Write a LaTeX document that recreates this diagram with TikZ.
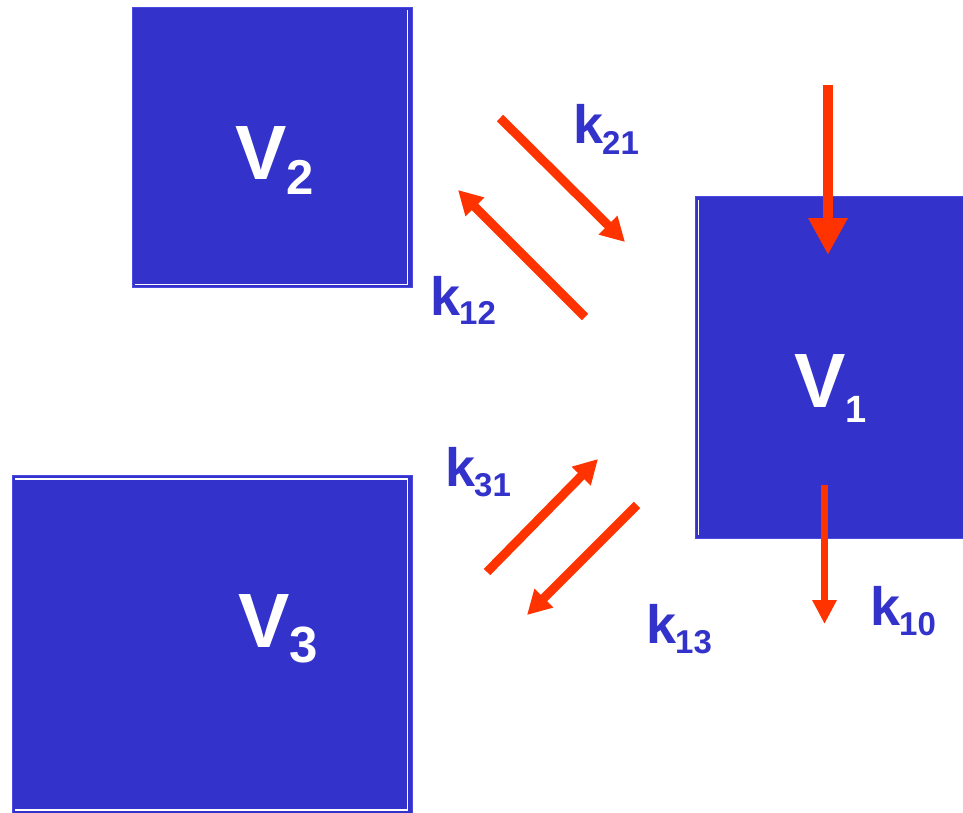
\documentclass[tikz,border=0pt]{standalone}
\usepackage{fontspec}
\setmainfont{Liberation Sans}
\usetikzlibrary{arrows.meta}
\definecolor{boxblue}{HTML}{3333CC}
\definecolor{edgeblue}{HTML}{4A4AE0}
\definecolor{arrred}{HTML}{FF3300}
\tikzset{
  compbox/.style={fill=boxblue, draw=edgeblue, line width=1pt},
  inner/.style={draw=white, line width=1.6pt},
  vlabel/.style={text=white, font=\bfseries, inner sep=0pt, anchor=base west},
  klabel/.style={text=boxblue, font=\bfseries, inner sep=0pt, anchor=base west},
  flow/.style={draw=arrred, line width=9pt, -{Triangle[length=24pt, width=25pt]}},
}
\newcommand{\Vlab}[3]{{\fontsize{77}{77}\selectfont V\kern#3pt\raisebox{-15pt}{\fontsize{#2}{#2}\selectfont #1}}}
\newcommand{\Klab}[2]{{\fontsize{54}{54}\selectfont k\kern-1pt\raisebox{-#2pt}{\fontsize{33}{33}\selectfont #1}}}
\begin{document}
\begin{tikzpicture}[x=1pt, y=-1pt]
\useasboundingbox (0,0) rectangle (963,813);
% boxes
\path[compbox] (132,8) rectangle (412,287);
\path[compbox] (695,197) rectangle (966,538);
\path[compbox] (12,475) rectangle (412,816);
% inner white lines
\draw[inner] (407.5,10) -- (407.5,284.5) -- (135,284.5);
\draw[inner] (698.5,200) -- (698.5,535);
\draw[inner] (15,479) -- (407.5,479) -- (407.5,810) -- (15,810);
% volume labels
\node[vlabel] (v2) at (235,180) {\Vlab{2}{49}{0}};
\node[vlabel] (v1) at (794,407) {\Vlab{1}{38}{0}};
\node[vlabel] (v3) at (238,647) {\Vlab{3}{51}{0}};
% rate labels
\node[klabel] (k21) at (573,144) {\Klab{21}{11}};
\node[klabel] (k12) at (430,315) {\Klab{12}{9}};
\node[klabel] (k31) at (445,486) {\Klab{31}{10}};
\node[klabel] (k13) at (646,643) {\Klab{13}{10}};
\node[klabel] (k10) at (870,625) {\Klab{10}{10}};
% arrow end points
\coordinate (in0) at (828,85);
\coordinate (in1) at (828,255);
\coordinate (a21s) at (500,118);
\coordinate (a21e) at (625,242);
\coordinate (a12s) at (585,317);
\coordinate (a12e) at (458,190);
\coordinate (a31s) at (487,572);
\coordinate (a31e) at (598,459);
\coordinate (a13s) at (637,505);
\coordinate (a13e) at (527,615);
\coordinate (o0) at (824.5,485);
\coordinate (o1) at (824.5,624);
% arrows
\draw[flow, line width=10pt, -{Triangle[length=37pt, width=37pt]}] (in0) -- (in1);
\draw[flow] (a21s) -- (a21e);
\draw[flow] (a12s) -- (a12e);
\draw[flow] (a31s) -- (a31e);
\draw[flow] (a13s) -- (a13e);
\draw[flow, line width=7.5pt, -{Triangle[length=24pt, width=23pt]}] (o0) -- (o1);
\end{tikzpicture}
\end{document}
